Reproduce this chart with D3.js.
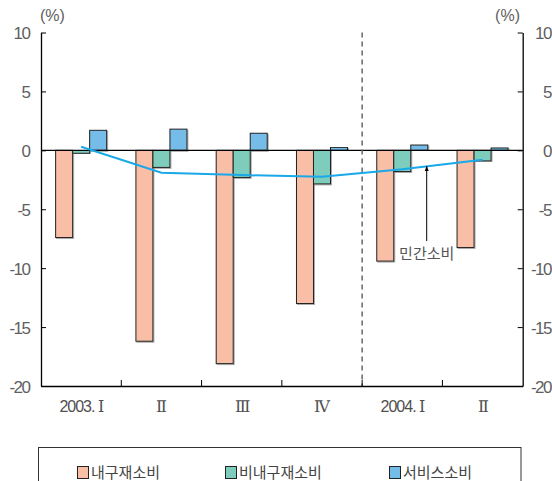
<!DOCTYPE html>
<html>
<head>
<meta charset="utf-8">
<script src="https://cdn.jsdelivr.net/npm/d3@7"></script>
<style>
  @font-face { font-family: "RomanNum"; src: local("DejaVu Serif"); unicode-range: U+2160-216F; }
  html, body { margin: 0; padding: 0; background: #fff; }
  svg { display: block; }
  .tick-label { font-family: "Liberation Sans", Arial, sans-serif; font-size: 17px; fill: #606060; letter-spacing: -1.5px; }
  .cat-label { font-family: "RomanNum", "Liberation Sans", Arial, sans-serif; font-size: 16px; fill: #505050; letter-spacing: -1px; }
  .kr { font-family: "Noto Sans CJK KR", sans-serif; fill: #444; }
</style>
</head>
<body>
<svg id="chart" width="552" height="481"></svg>
<script>
// Quarterly growth of consumption by type (%)
const categories = ["2003. Ⅰ", "Ⅱ", "Ⅲ", "Ⅳ", "2004. Ⅰ", "Ⅱ "];
const seriesNames = ["내구재소비", "비내구재소비", "서비스소비"];
const durable    = [-7.4, -16.2, -18.1, -13.0, -9.4, -8.25];
const nondurable = [-0.25, -1.45, -2.3, -2.85, -1.8, -0.9];
const services   = [1.7, 1.8, 1.45, 0.25, 0.45, 0.2];
const privateConsumption = [0.3, -1.9, -2.1, -2.25, -1.6, -0.8];
const yTicks = [10, 5, 0, -5, -10, -15, -20];
const lineLabel = "민간소비";

const colors = ["#f9bfa6", "#7ecdbc", "#74bce8"];
const lineColor = "#19a8e8";

const svg = d3.select("#chart");
const plotL = 41, plotR = 522.7, plotT = 32.5, plotB = 386;

const defs = svg.append("defs");
const f = defs.append("filter").attr("id", "shadow")
  .attr("x", "-20%").attr("y", "-5%").attr("width", "140%").attr("height", "110%");
f.append("feDropShadow").attr("dx", 1).attr("dy", 1)
  .attr("stdDeviation", 0.7).attr("flood-color", "#777").attr("flood-opacity", 0.6);

const x = d3.scaleBand().domain(categories).range([plotL, plotR]).paddingInner(0).paddingOuter(0);
const x1 = d3.scaleBand().domain(seriesNames).range([0, x.bandwidth()]).paddingInner(0).paddingOuter(0.86);
const y = d3.scaleLinear().domain([-20, 10]).range([plotB, plotT]);

const seriesValues = [durable, nondurable, services];

// Bars
seriesValues.forEach((vals, si) => {
  svg.append("g").selectAll("rect")
    .data(vals)
    .join("rect")
    .attr("x", (d, i) => x(categories[i]) + x1(seriesNames[si]))
    .attr("width", x1.bandwidth())
    .attr("y", d => Math.min(y(d), y(0)))
    .attr("height", d => Math.abs(y(d) - y(0)))
    .attr("fill", colors[si])
    .attr("stroke", "#222")
    .attr("stroke-width", 1)
    .attr("filter", "url(#shadow)");
});

// Zero line
svg.append("line")
  .attr("x1", plotL).attr("x2", plotR)
  .attr("y1", y(0)).attr("y2", y(0))
  .attr("stroke", "#000").attr("stroke-width", 1.3);

// Year divider
svg.append("line")
  .attr("x1", x(categories[4])).attr("x2", x(categories[4]))
  .attr("y1", plotT).attr("y2", plotB)
  .attr("stroke", "#666").attr("stroke-width", 1.5)
  .attr("stroke-dasharray", "5,4");

// Private consumption line
const line = d3.line()
  .x((d, i) => x(categories[i]) + x.bandwidth() / 2)
  .y(d => y(d));
svg.append("path")
  .datum(privateConsumption)
  .attr("d", line)
  .attr("fill", "none")
  .attr("stroke", lineColor)
  .attr("stroke-width", 2);

function styleLabels(sel, cls) {
  sel.attr("class", cls || "tick-label").attr("font-family", null).attr("font-size", null).attr("fill", null);
}

// Left axis
const gl = svg.append("g").attr("transform", `translate(${plotL},0)`)
  .call(d3.axisLeft(y).tickValues(yTicks).tickSize(-5).tickSizeOuter(0).tickPadding(11.5)
    .tickFormat(d => d));
gl.attr("font-family", null).attr("font-size", null);
gl.select(".domain").attr("stroke", "#000").attr("stroke-width", 1.3);
gl.selectAll(".tick line").attr("stroke", "#000");
styleLabels(gl.selectAll(".tick text"));
gl.selectAll(".tick text").attr("dy", "0.36em");

// Right axis
const gr = svg.append("g").attr("transform", `translate(${plotR},0)`)
  .call(d3.axisRight(y).tickValues(yTicks).tickSize(-5).tickSizeOuter(0)
    .tickFormat(d => d));
gr.attr("font-family", null).attr("font-size", null);
gr.select(".domain").attr("stroke", "#000").attr("stroke-width", 1.3);
gr.selectAll(".tick line").attr("stroke", "#000");
styleLabels(gr.selectAll(".tick text"));
gr.selectAll(".tick text").attr("text-anchor", "end").attr("x", 551 - plotR).attr("dy", "0.36em");

// Bottom axis with boundary ticks
const gb = svg.append("g").attr("transform", `translate(0,${plotB})`)
  .call(d3.axisBottom(x).tickSize(0).tickPadding(15));
gb.attr("font-family", null).attr("font-size", null);
gb.select(".domain").attr("stroke", "#000").attr("stroke-width", 1.3);
styleLabels(gb.selectAll(".tick text"), "cat-label");
gb.selectAll(".tick text").attr("dy", "0.71em");
svg.append("g").selectAll("line")
  .data(categories.slice(1))
  .join("line")
  .attr("x1", d => x(d)).attr("x2", d => x(d))
  .attr("y1", plotB).attr("y2", plotB - 6)
  .attr("stroke", "#000").attr("stroke-width", 1);

// Units
svg.append("text").attr("class", "tick-label").attr("x", 40).attr("y", 21).text("(%)").style("letter-spacing", "0px").style("font-size", "16px");
svg.append("text").attr("class", "tick-label").attr("x", 520).attr("y", 21).attr("text-anchor", "end").text("(%)").style("letter-spacing", "0px").style("font-size", "16px");

// Annotation for the line
const ax = 426.7;
defs.append("marker").attr("id", "arrow").attr("viewBox", "0 0 10 10")
  .attr("refX", 10).attr("refY", 5).attr("markerWidth", 5).attr("markerHeight", 5)
  .attr("orient", "auto")
  .append("path").attr("d", "M0,1 L10,5 L0,9 z").attr("fill", "#000");
svg.append("line")
  .attr("x1", ax).attr("x2", ax)
  .attr("y1", 241).attr("y2", 166)
  .attr("stroke", "#000").attr("stroke-width", 1)
  .attr("marker-end", "url(#arrow)");
svg.append("text").attr("class", "kr")
  .attr("x", ax).attr("y", 259).attr("text-anchor", "middle")
  .style("font-size", "15px").style("fill", "#555")
  .text(lineLabel);

// Legend
svg.append("rect")
  .attr("x", 38.5).attr("y", 447.5).attr("width", 482.5).attr("height", 50)
  .attr("fill", "none").attr("stroke", "#333").attr("stroke-width", 1);
const legendX = [77, 225, 389];
const lg = svg.append("g").selectAll("g")
  .data(seriesNames)
  .join("g")
  .attr("transform", (d, i) => `translate(${legendX[i]},0)`);
lg.append("rect")
  .attr("x", 0.5).attr("y", 466.5).attr("width", 11).attr("height", 12)
  .attr("fill", (d, i) => colors[i]).attr("stroke", "#222");
lg.append("text").attr("class", "kr")
  .attr("x", 14).attr("y", 478)
  .style("font-size", "15px")
  .text(d => d);
</script>
</body>
</html>
